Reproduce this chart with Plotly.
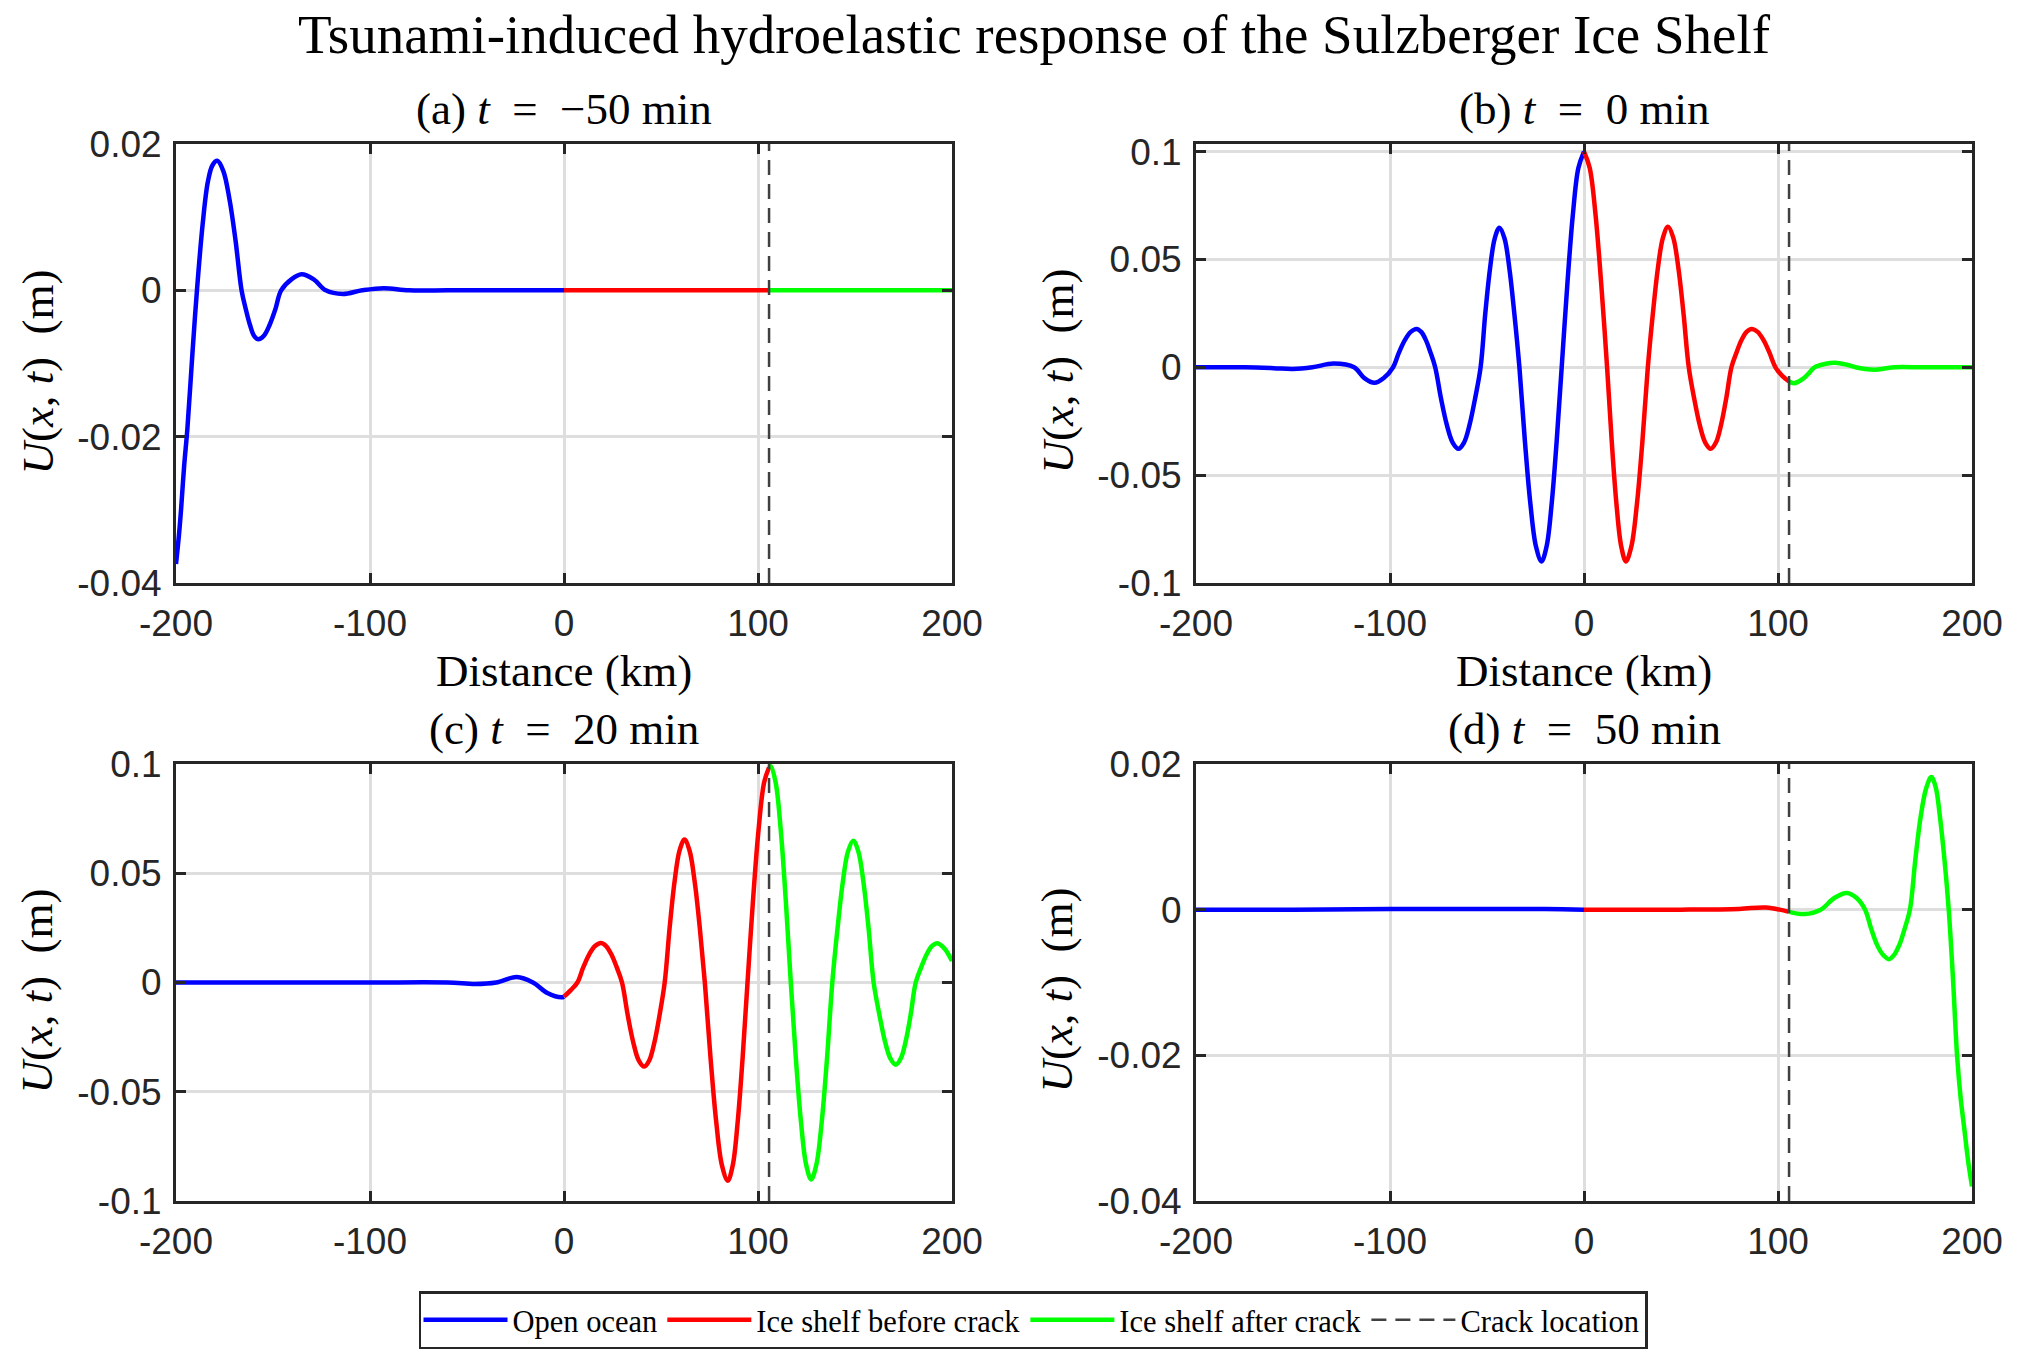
import plotly.graph_objects as go

# ---------------- data ----------------
X_RANGE = [-200, 200]
CRACK_KM = 105.7
X_TICKS = [-200, -100, 0, 100, 200]
X_TICK_TEXT = ["-200", "-100", "0", "100", "200"]
Y_TICKS_SMALL = [-0.04, -0.02, 0, 0.02]
Y_TICK_TEXT_SMALL = ["-0.04", "-0.02", "0", "0.02"]
Y_TICKS_BIG = [-0.1, -0.05, 0, 0.05, 0.1]
Y_TICK_TEXT_BIG = ["-0.1", "-0.05", "0", "0.05", "0.1"]
Y_RANGE_A = [-0.04, 0.02]
Y_RANGE_B = [-0.1, 0.1035]
Y_RANGE_C = [-0.1, 0.1]
Y_RANGE_D = [-0.04, 0.02]

SERIES_NAMES = ["Open ocean", "Ice shelf before crack", "Ice shelf after crack", "Crack location"]
PANEL_TITLES = ["(a) <i>t</i>\u2002=\u2002\u221250 min", "(b) <i>t</i>\u2002=\u20020 min",
                "(c) <i>t</i>\u2002=\u200220 min", "(d) <i>t</i>\u2002=\u200250 min"]

# (a) t = -50 min
a_ocean_x = [-200, -198.5, -197.4, -195.8, -194.1, -191.5, -189.2, -186.2, -183.6, -181.2,
             -178.7, -175.6, -172.4, -169.3, -166.2, -164, -161.9, -159.8, -157.6, -154.7,
             -151.7, -148.8, -145.8, -140.5, -135.3, -129, -122.8, -114, -104, -93, -80,
             -60, -40, -20, 0]
a_ocean_y = [-0.0374, -0.0335, -0.030, -0.024, -0.0188, -0.0085, 0.0, 0.0092, 0.0148, 0.0171,
             0.0177, 0.0163, 0.0124, 0.0068, 0.0, -0.0026, -0.0047, -0.0062, -0.0067, -0.0062,
             -0.0047, -0.0026, 0.0, 0.0015, 0.0022, 0.0015, 0.0, -0.0005, 0.0, 0.0003, 0.0,
             0.0, 0.0, 0.0, 0.0]
a_before_x = [0, 50, 105.7]
a_before_y = [0.0, 0.0, 0.0]
a_after_x = [105.7, 150, 200]
a_after_y = [0.0, 0.0, 0.0]

# (b) t = 0 min
b_ocean_x = [-200, -175, -160, -150, -140, -129, -118.5, -113.2, -108, -103.2, -98.4,
             -95.4, -92.35, -89.3, -86.3, -83.9, -81.5, -79.1, -76.7,
             -73.7, -70.7, -67.7, -64.7, -61.85, -59.0, -56.15, -53.3,
             -50.9, -48.45, -46.0, -43.6, -41.0, -38.45, -35.9, -33.3,
             -30.45, -27.6, -24.75, -21.9, -19.3, -16.7, -14.1, -11.5,
             -8.6, -5.75, -2.9, 0]
b_ocean_y = [0.0, 0.0, -0.0004, -0.0008, 0.0, 0.0017, 0.0, -0.005, -0.0072, -0.005, 0.0,
             0.0068, 0.0126, 0.0164, 0.0178, 0.0164, 0.0126, 0.0068, 0.0,
             -0.0145, -0.0267, -0.0349, -0.0378, -0.0349, -0.0267, -0.0145, 0.0,
             0.0248, 0.0457, 0.0598, 0.0647, 0.0598, 0.0457, 0.0248, 0.0,
             -0.0344, -0.0636, -0.0831, -0.090, -0.0831, -0.0636, -0.0344, 0.0,
             0.0383, 0.0707, 0.0924, 0.100]
b_before_x = [0, 2.95, 5.95, 8.9, 11.9, 14.3, 16.75, 19.2, 21.6, 24.4, 27.25, 30.1, 32.9,
              35.5, 38.1, 40.7, 43.3, 46.0, 48.65, 51.3, 54, 56.8, 59.65, 62.5, 65.3,
              68.0, 70.65, 73.3, 76, 78.6, 81.2, 83.8, 86.4, 89.5, 92.55, 95.6, 98.7,
              102.2, 105.7]
b_before_y = [0.100, 0.0924, 0.0707, 0.0383, 0.0, -0.0344, -0.0636, -0.0831, -0.090, -0.0831,
              -0.0636, -0.0344, 0.0, 0.0249, 0.046, 0.0601, 0.0651, 0.0601, 0.046, 0.0249,
              0.0, -0.0145, -0.0267, -0.0349, -0.0378, -0.0349, -0.0267, -0.0145, 0.0,
              0.0068, 0.0126, 0.0164, 0.0178, 0.0164, 0.0126, 0.0068, 0.0, -0.0040, -0.0066]
b_after_x = [105.7, 108, 110.7, 113.4, 116, 118.8, 124, 129.5, 135, 140, 145, 150, 155,
             160, 175, 200]
b_after_y = [-0.0066, -0.0074, -0.0066, -0.005, -0.0027, 0.0, 0.0015, 0.0021, 0.0013, 0.0,
             -0.0008, -0.0011, -0.0006, 0.0, 0.0, 0.0]

# (c) t = 20 min
c_ocean_x = [-200, -150, -100, -60, -45.6, -35, -24.3, -16, -8.6, -1.3, 0]
c_ocean_y = [0.0, 0.0, 0.0, 0.0, -0.0007, 0.0, 0.0025, 0.0, -0.0048, -0.0068, -0.0065]
c_before_x = [0, 3.5, 6.9, 9.9, 12.95, 16.0, 19, 21.7, 24.45, 27.2, 29.9,
              32.8, 35.65, 38.5, 41.4, 44.0, 46.65, 49.3, 51.9,
              54.45, 57.0, 59.55, 62.1, 64.7, 67.35, 70.0, 72.6,
              75.55, 78.5, 81.45, 84.4, 86.95, 89.5, 92.05, 94.6,
              97.45, 100.3, 103.15, 105.7]
c_before_y = [-0.0065, -0.0035, 0.0, 0.0069, 0.0128, 0.0167, 0.0181, 0.0167, 0.0128, 0.0069,
              0.0, -0.0147, -0.0272, -0.0356, -0.0385, -0.0356, -0.0272, -0.0147, 0.0,
              0.025, 0.0462, 0.0604, 0.0654, 0.0604, 0.0462, 0.025, 0.0,
              -0.0347, -0.0641, -0.0838, -0.0907, -0.0838, -0.0641, -0.0347, 0.0,
              0.0379, 0.070, 0.0915, 0.0985]
c_after_x = [105.7, 106.5, 109.1, 111.7, 114.3, 116.9, 119.5, 122.15, 124.8, 127.4,
             130.1, 132.85, 135.6, 138.3, 141.0, 143.7, 146.4, 149.1, 151.7, 154.35,
             157.0, 159.6, 162.5, 165.35, 168.2, 171.1, 173.65, 176.2, 178.75, 181.3,
             184.1, 186.85, 189.6, 192.4, 196.2, 200]
c_after_y = [0.0985, 0.0990, 0.0915, 0.070, 0.0379, 0.0, -0.0345, -0.0638, -0.0833, -0.0902,
             -0.0833, -0.0638, -0.0345, 0.0, 0.0248, 0.0459, 0.060, 0.0649, 0.060, 0.0459,
             0.0248, 0.0, -0.0144, -0.0266, -0.0347, -0.0376, -0.0347, -0.0266, -0.0144, 0.0,
             0.0069, 0.0127, 0.0166, 0.0180, 0.0155, 0.0098]

# (d) t = 50 min
d_ocean_x = [-200, -150, -100, -60, -20, 0]
d_ocean_y = [0.0, 0.0, 0.0001, 0.0001, 0.0001, 0.0]
d_before_x = [0, 50, 80, 93.7, 105.7]
d_before_y = [0.0, 0.0, 0.0001, 0.0003, -0.0003]
d_after_x = [105.7, 113.8, 122, 129, 135.5, 140.5, 144.9, 148, 151, 154.1, 157.2, 159.9,
             162.6, 165.3, 168, 170.8, 173.5, 176.3, 179, 181.3, 183.5, 185.8, 188, 190.2,
             192.3, 194.2, 196, 198, 200]
d_after_y = [-0.0003, -0.0006, 0.0, 0.0016, 0.0023, 0.0016, 0.0, -0.0026, -0.0048, -0.0062,
             -0.0068, -0.0062, -0.0048, -0.0026, 0.0, 0.0069, 0.0127, 0.0166, 0.0182, 0.0168,
             0.0127, 0.0069, 0.0, -0.0095, -0.020, -0.026, -0.030, -0.0345, -0.038]

# ---------------- styling ----------------
COLORS = ["#0000FF", "#FF0000", "#00FF00", "#404040"]
AX_COLOR = "#262626"
GRID_COLOR = "#dedede"
SERIF = "Liberation Serif"
SANS = "Liberation Sans"
W, H = 2017, 1362

XDOM_L = [176 / W, 952 / W]
XDOM_R = [1196 / W, 1972 / W]
YDOM_T = [1 - 583 / H, 1 - 144 / H]
YDOM_B = [1 - 1201 / H, 1 - 764 / H]

panels = [
    dict(ox=a_ocean_x, oy=a_ocean_y, bx=a_before_x, by=a_before_y, ax_=a_after_x, ay=a_after_y,
         yr=Y_RANGE_A, yt=Y_TICKS_SMALL, ytt=Y_TICK_TEXT_SMALL, xd=XDOM_L, yd=YDOM_T),
    dict(ox=b_ocean_x, oy=b_ocean_y, bx=b_before_x, by=b_before_y, ax_=b_after_x, ay=b_after_y,
         yr=Y_RANGE_B, yt=Y_TICKS_BIG, ytt=Y_TICK_TEXT_BIG, xd=XDOM_R, yd=YDOM_T),
    dict(ox=c_ocean_x, oy=c_ocean_y, bx=c_before_x, by=c_before_y, ax_=c_after_x, ay=c_after_y,
         yr=Y_RANGE_C, yt=Y_TICKS_BIG, ytt=Y_TICK_TEXT_BIG, xd=XDOM_L, yd=YDOM_B),
    dict(ox=d_ocean_x, oy=d_ocean_y, bx=d_before_x, by=d_before_y, ax_=d_after_x, ay=d_after_y,
         yr=Y_RANGE_D, yt=Y_TICKS_SMALL, ytt=Y_TICK_TEXT_SMALL, xd=XDOM_R, yd=YDOM_B),
]

fig = go.Figure()
layout = {}
annotations = []

for i, p in enumerate(panels):
    n = i + 1
    xa = "x" if n == 1 else f"x{n}"
    ya = "y" if n == 1 else f"y{n}"
    show = (i == 0)
    segs = [(p["ox"], p["oy"]), (p["bx"], p["by"]), (p["ax_"], p["ay"])]
    for k, (xs, ys) in enumerate(segs):
        fig.add_trace(go.Scatter(
            x=xs, y=ys, mode="lines", name=SERIES_NAMES[k], legendgroup=SERIES_NAMES[k],
            showlegend=show, xaxis=xa, yaxis=ya,
            line=dict(color=COLORS[k], width=4.5, shape="spline", smoothing=1.0)))
    fig.add_trace(go.Scatter(
        x=[CRACK_KM, CRACK_KM], y=p["yr"], mode="lines", name=SERIES_NAMES[3],
        legendgroup=SERIES_NAMES[3], showlegend=show, xaxis=xa, yaxis=ya,
        line=dict(color=COLORS[3], width=2.5, dash="15px,9px")))

    common = dict(showline=True, linecolor=AX_COLOR, linewidth=3, mirror="ticks",
                  ticks="inside", ticklen=10, tickwidth=3, tickcolor=AX_COLOR,
                  showgrid=True, gridcolor=GRID_COLOR, gridwidth=2.5, zeroline=False,
                  tickfont=dict(family=SANS, size=37, color=AX_COLOR), automargin=False)
    layout["xaxis" if n == 1 else f"xaxis{n}"] = dict(
        domain=p["xd"], range=X_RANGE, anchor=ya, tickvals=X_TICKS, ticktext=X_TICK_TEXT,
        ticklabelstandoff=6, **common)
    layout["yaxis" if n == 1 else f"yaxis{n}"] = dict(
        domain=p["yd"], range=p["yr"], anchor=xa, tickvals=p["yt"], ticktext=p["ytt"],
        ticklabelstandoff=4, **common)

    xc = (p["xd"][0] + p["xd"][1]) / 2
    yc = (p["yd"][0] + p["yd"][1]) / 2
    title_y = p["yd"][1] + 35 / H
    annotations.append(dict(text=PANEL_TITLES[i], x=xc, y=title_y, xref="paper", yref="paper",
                            xanchor="center", yanchor="middle", showarrow=False,
                            font=dict(family=SERIF, size=45, color="black")))
    annotations.append(dict(text="<i>U</i>(<i>x</i>, <i>t</i>)\u2002(m)",
                            x=p["xd"][0] - 139 / W, y=yc - 8 / H,
                            xref="paper", yref="paper", xanchor="center", yanchor="middle",
                            textangle=-90, showarrow=False,
                            font=dict(family=SERIF, size=45, color="black")))
    if n in (1, 2):
        annotations.append(dict(text="Distance (km)", x=xc, y=p["yd"][0] - 88 / H,
                                xref="paper", yref="paper", xanchor="center", yanchor="middle",
                                showarrow=False, font=dict(family=SERIF, size=45, color="black")))

annotations.append(dict(text="Tsunami-induced hydroelastic response of the Sulzberger Ice Shelf",
                        x=1034 / W, y=1 - 35 / H, xref="paper", yref="paper",
                        xanchor="center", yanchor="middle", showarrow=False,
                        font=dict(family=SERIF, size=55, color="black")))

fig.update_layout(
    width=W, height=H,
    margin=dict(l=0, r=0, t=0, b=0),
    paper_bgcolor="white", plot_bgcolor="white",
    annotations=annotations,
    showlegend=True,
    legend=dict(orientation="h", x=1033 / W, xanchor="center", y=1 - 1320 / H, yanchor="middle",
                bordercolor=AX_COLOR, borderwidth=2.5, bgcolor="white",
                font=dict(family=SERIF, size=30.5, color="black"),
                itemwidth=84, entrywidthmode="pixels"),
    **layout,
)

fig.write_html("out.html")
